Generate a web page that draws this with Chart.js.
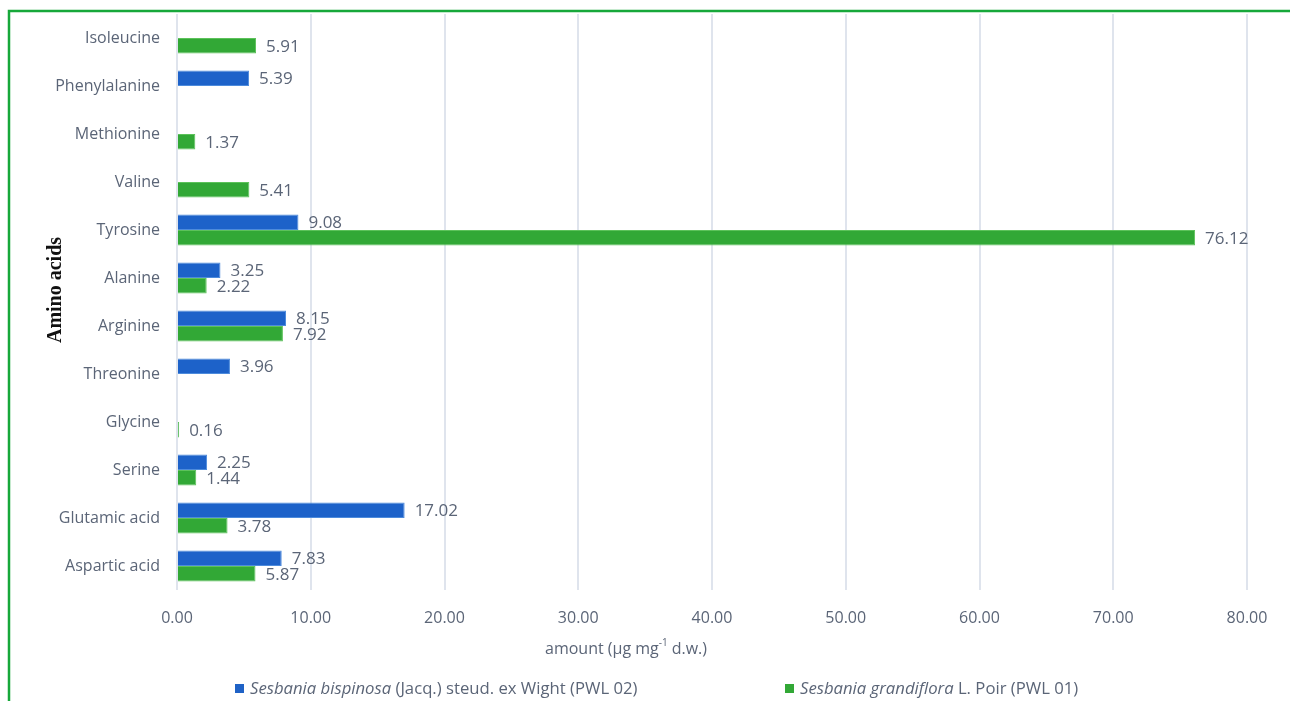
<!DOCTYPE html>
<html>
<head>
<meta charset="utf-8">
<script src="https://cdn.jsdelivr.net/npm/chart.js@4"></script>
<style>
  html, body { margin: 0; padding: 0; background: #ffffff; }
  canvas { display: block; }
</style>
</head>
<body>
<canvas id="aminoChart" width="1290" height="701"></canvas>
<script>
// amino acid content, top to bottom
var aminoAcids = ['Isoleucine', 'Phenylalanine', 'Methionine', 'Valine', 'Tyrosine', 'Alanine',
                  'Arginine', 'Threonine', 'Glycine', 'Serine', 'Glutamic acid', 'Aspartic acid'];
var bispinosa   = [null, 5.39, null, null, 9.08, 3.25, 8.15, 3.96, null, 2.25, 17.02, 7.83];
var grandiflora = [5.91, null, 1.37, 5.41, 76.12, 2.22, 7.92, null, 0.16, 1.44, 3.78, 5.87];
var xTicks = [0, 10, 20, 30, 40, 50, 60, 70, 80];

var textColor = '#5b6577';
var baseFont = '"Open Sans", "Noto Sans", sans-serif';

// value labels at the end of each bar
var valueLabels = {
    id: 'valueLabels',
    afterDatasetsDraw: function(chart) {
        var ctx = chart.ctx;
        ctx.save();
        ctx.font = '17px ' + baseFont;
        ctx.fillStyle = textColor;
        ctx.textAlign = 'left';
        ctx.textBaseline = 'middle';
        chart.data.datasets.forEach(function(ds, i) {
            var meta = chart.getDatasetMeta(i);
            meta.data.forEach(function(bar, j) {
                var v = ds.data[j];
                if (v === null || v === undefined) return;
                ctx.fillText(v.toFixed(2), bar.x + 10, bar.y + 1);
            });
        });
        ctx.restore();
    }
};

// frame lines, axis titles and the legend with italic species names
var decorations = {
    id: 'decorations',
    beforeDraw: function(chart) {
        var ctx = chart.ctx;
        ctx.save();
        ctx.fillStyle = '#ffffff';
        ctx.fillRect(0, 0, chart.width, chart.height);
        ctx.strokeStyle = '#17a83a';
        ctx.lineWidth = 2.5;
        ctx.beginPath();
        ctx.moveTo(9, chart.height);
        ctx.lineTo(9, 11);
        ctx.lineTo(chart.width, 11);
        ctx.stroke();
        ctx.restore();
    },
    afterDraw: function(chart) {
        var ctx = chart.ctx;
        ctx.save();

        // y axis title
        ctx.translate(56, 290);
        ctx.rotate(-Math.PI / 2);
        ctx.font = 'bold 20px "Liberation Serif", "DejaVu Serif", serif';
        ctx.fillStyle = '#111111';
        ctx.textAlign = 'center';
        ctx.textBaseline = 'middle';
        ctx.fillText('Amino acids', 0, 0);
        ctx.setTransform(1, 0, 0, 1, 0, 0);

        // x axis title with superscript
        ctx.fillStyle = textColor;
        ctx.textBaseline = 'middle';
        ctx.textAlign = 'left';
        var x = 545, y = 649;
        ctx.font = '16px ' + baseFont;
        var part1 = 'amount (\u00b5g mg';
        ctx.fillText(part1, x, y);
        x += ctx.measureText(part1).width;
        ctx.font = '10px ' + baseFont;
        ctx.fillText('-1', x, y - 6);
        x += ctx.measureText('-1').width + 4;
        ctx.font = '16px ' + baseFont;
        ctx.fillText('d.w.)', x, y);

        // legend
        var items = [
            { color: '#1f62c6', x: 235, italic: 'Sesbania bispinosa', rest: ' (Jacq.) steud. ex Wight (PWL 02)' },
            { color: '#32a836', x: 785, italic: 'Sesbania grandiflora', rest: ' L. Poir (PWL 01)' }
        ];
        var ly = 689;
        items.forEach(function(it) {
            ctx.fillStyle = it.color;
            ctx.fillRect(it.x, ly - 5, 9, 9);
            ctx.fillStyle = textColor;
            var tx = it.x + 15;
            ctx.font = 'italic 16.7px ' + baseFont;
            ctx.fillText(it.italic, tx, ly);
            tx += ctx.measureText(it.italic).width;
            ctx.font = '16.7px ' + baseFont;
            ctx.fillText(it.rest, tx, ly);
        });
        ctx.restore();
    }
};

var ctx = document.getElementById('aminoChart').getContext('2d');
var aminoChart = new Chart(ctx, {
    type: 'bar',
    data: {
        labels: aminoAcids,
        datasets: [{
            label: 'Sesbania bispinosa (Jacq.) steud. ex Wight (PWL 02)',
            data: bispinosa,
            backgroundColor: '#1d62c9',
            borderColor: '#4d8bdc',
            borderWidth: 1
        }, {
            label: 'Sesbania grandiflora L. Poir (PWL 01)',
            data: grandiflora,
            backgroundColor: '#32a836',
            borderColor: '#5cc25a',
            borderWidth: 1
        }]
    },
    options: {
        indexAxis: 'y',
        responsive: false,
        animation: false,
        devicePixelRatio: 1,
        categoryPercentage: 0.65,
        barPercentage: 1.0,
        layout: { padding: { top: 14, right: 43, left: 0, bottom: 0 } },
        plugins: {
            legend: { display: false },
            title: { display: false },
            tooltip: { enabled: false }
        },
        scales: {
            x: {
                type: 'linear',
                min: 0,
                max: 80,
                afterFit: function(scale) { scale.height = 111; },
                afterBuildTicks: function(scale) {
                    scale.ticks = xTicks.map(function(v) { return { value: v }; });
                },
                grid: { color: '#dfe4ed', lineWidth: 2, drawTicks: false },
                border: { display: false },
                ticks: {
                    padding: 19,
                    color: textColor,
                    font: { family: baseFont, size: 16 },
                    callback: function(v) { return Number(v).toFixed(2); }
                }
            },
            y: {
                afterFit: function(scale) {
                    scale.width = 177;
                    scale.paddingTop = 0;
                    scale.paddingBottom = 0;
                },
                grid: { display: false, drawTicks: false },
                border: { display: false },
                ticks: {
                    padding: 17,
                    color: textColor,
                    font: { family: baseFont, size: 16, lineHeight: 1.0 }
                }
            }
        }
    },
    plugins: [decorations, valueLabels]
});
</script>
</body>
</html>
